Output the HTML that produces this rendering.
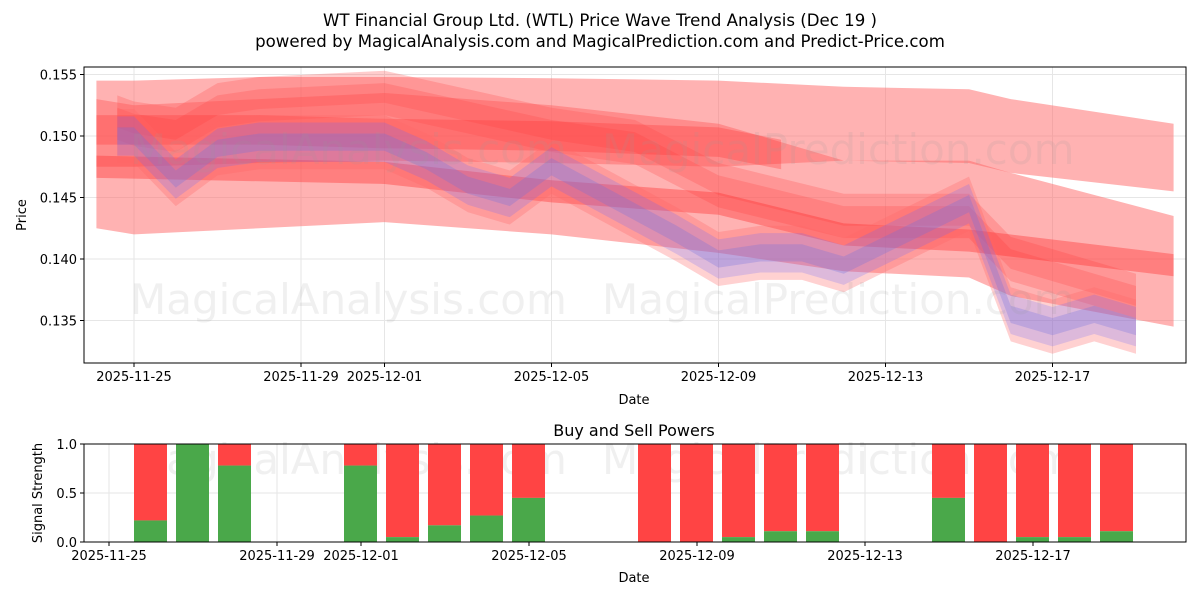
<!DOCTYPE html>
<html><head><meta charset="utf-8"><style>
body{margin:0;background:#fff;font-family:"Liberation Sans","DejaVu Sans",sans-serif}
svg text{font-family:"DejaVu Sans","Liberation Sans",sans-serif}
</style></head><body>
<svg id="c" width="1200" height="600" xmlns="http://www.w3.org/2000/svg"></svg>
<script>
// ---- data (days offset from 2025-11-25) ----
const tickDays=[0,4,6,10,14,18,22];
const tickLabels=["2025-11-25","2025-11-29","2025-12-01","2025-12-05","2025-12-09","2025-12-13","2025-12-17"];
const yTicks=[0.135,0.140,0.145,0.150,0.155];
const yTicks2=[0,0.5,1];
const bandADays=[-0.9,0,3,6,10,14,17,20,21,24.9];
const bandAUp=[0.1545,0.1545,0.1548,0.1548,0.1547,0.1545,0.154,0.1538,0.153,0.151];
const bandALo=[0.1475,0.1475,0.1478,0.148,0.1478,0.1475,0.148,0.1478,0.147,0.1455];
const bandBDays=[-0.9,0,3,6,10,14,17,20,21,24.9];
const bandBUp=[0.153,0.1525,0.153,0.1535,0.1525,0.151,0.148,0.148,0.147,0.1435];
const bandBLo=[0.1425,0.142,0.1425,0.143,0.142,0.1405,0.139,0.1385,0.137,0.1345];
const trend1Days=[-0.9,0,3,6,10,14,15.5];
const trend1=[0.1505,0.1505,0.1505,0.1502,0.150,0.1495,0.1485];
const trend2Days=[-0.9,6,10,14,17,20,24.9];
const trend2=[0.1475,0.147,0.1455,0.1445,0.142,0.1415,0.1395];
const maDays=[-0.4,0,1,2,3,6,8,10,12,14,17,20,21,24];
const ma=[0.1515,0.151,0.1505,0.1525,0.153,0.1535,0.152,0.1505,0.1495,0.146,0.1435,0.1435,0.140,0.137];
const priceDays=[-0.4,0,1,2,3,6,7,8,9,10,13,14,15,16,17,20,21,22,23,24];
const price=[0.150,0.150,0.1465,0.149,0.1495,0.1495,0.148,0.146,0.145,0.1475,0.142,0.140,0.1405,0.1405,0.1395,0.1445,0.1355,0.1345,0.1355,0.1345];
const barDays=[0,1,2,5,6,7,8,9,12,13,14,15,16,19,20,21,22,23];
const buyPower=[0.22,1.0,0.78,0.78,0.05,0.17,0.27,0.45,0,0,0.05,0.11,0.11,0.45,0,0.05,0.05,0.11];

const NS="http://www.w3.org/2000/svg",svg=document.getElementById('c');
function el(t,a,p){const e=document.createElementNS(NS,t);for(const k in a)e.setAttribute(k,a[k]);(p||svg).appendChild(e);return e;}
const X=d=>134+d*41.75;
const Xb=d=>109+d*42;
const Y=v=>136-(v-0.150)/0.005*61.5;
const Y2=v=>542-v*98;
const L=84,R=1186,T1=67,B1=363,T2=444,B2=542;

function txt(x,y,s,o){const t=el('text',Object.assign({x:x,y:y,'font-size':13,fill:'#000'},o||{}));t.textContent=s;return t;}
let t=txt(600,26,"WT Financial Group Ltd. (WTL) Price Wave Trend Analysis (Dec 19 )",{'font-size':16.6,'text-anchor':'middle'});

t=txt(600,47,"powered by MagicalAnalysis.com and MagicalPrediction.com and Predict-Price.com",{'font-size':16.6,'text-anchor':'middle'});


// grids
tickDays.forEach(d=>{el('line',{x1:X(d),x2:X(d),y1:T1,y2:B1,stroke:'#e6e6e6'});el('line',{x1:Xb(d),x2:Xb(d),y1:T2,y2:B2,stroke:'#e6e6e6'});});
yTicks.forEach(v=>el('line',{x1:L,x2:R,y1:Y(v),y2:Y(v),stroke:'#e6e6e6'}));
yTicks2.forEach(v=>el('line',{x1:L,x2:R,y1:Y2(v),y2:Y2(v),stroke:'#e6e6e6'}));

function poly(days,up,lo,fill,op,name){
  let pts=days.map((d,i)=>X(d)+','+Y(up[i]));
  for(let i=days.length-1;i>=0;i--)pts.push(X(days[i])+','+Y(lo[i]));
  const p=el('polygon',{points:pts.join(' '),fill:fill,'fill-opacity':op});
  return p;
}
function bandAround(days,c,hw,fill,op,name){return poly(days,c.map(v=>v+hw),c.map(v=>v-hw),fill,op,name);}
poly(bandADays,bandAUp,bandALo,'#ff6666',0.5,'upper-wave-band');
poly(bandBDays,bandBUp,bandBLo,'#ff6666',0.5,'lower-wave-band');
bandAround(maDays,ma,0.0018,'#ff5555',0.3,'ma-band-wide');
bandAround(maDays,ma,0.0008,'#ff4444',0.25,'ma-band');
bandAround(trend1Days,trend1,0.0012,'#ff3333',0.3,'trend-band-1');
bandAround(trend2Days,trend2,0.0009,'#ff3333',0.4,'trend-band-2');
bandAround(priceDays,price,0.0022,'#ff6666',0.3,'price-red-band');
bandAround(priceDays,price,0.0016,'#6666ff',0.22,'price-blue-band-wide');
bandAround(priceDays,price,0.0007,'#7070dd',0.28,'price-blue-band');

// watermarks
[[130,300,'MagicalAnalysis.com'],[602,300,'MagicalPrediction.com'],[130,150,'MagicalAnalysis.com'],[602,150,'MagicalPrediction.com'],[130,460,'MagicalAnalysis.com'],[602,460,'MagicalPrediction.com']].forEach(w=>{
  const e=txt(w[0],w[1]+14,w[2],{'font-size':42,fill:'#999','fill-opacity':0.15});
  });

// bars
barDays.forEach((d,i)=>{
  const x=Xb(d)+25,w=33;
  const r=el('rect',{x:x,y:Y2(1),width:w,height:Y2(buyPower[i])-Y2(1),fill:'#ff4444'});
  
  const g=el('rect',{x:x,y:Y2(buyPower[i]),width:w,height:Y2(0)-Y2(buyPower[i]),fill:'#4aa84a'});
  
});

// axes frames
el('rect',{x:L,y:T1,width:R-L,height:B1-T1,fill:'none',stroke:'#000','stroke-width':1});
el('rect',{x:L,y:T2,width:R-L,height:B2-T2,fill:'none',stroke:'#000','stroke-width':1});

tickDays.forEach((d,i)=>{
  el('line',{x1:X(d),x2:X(d),y1:B1,y2:B1+4,stroke:'#000'});
  txt(X(d),B1+18,tickLabels[i],{'text-anchor':'middle'});
  el('line',{x1:Xb(d),x2:Xb(d),y1:B2,y2:B2+4,stroke:'#000'});
  txt(Xb(d),B2+18,tickLabels[i],{'text-anchor':'middle'});
});
yTicks.forEach(v=>{el('line',{x1:L-4,x2:L,y1:Y(v),y2:Y(v),stroke:'#000'});txt(L-7,Y(v)+5,v.toFixed(3),{'text-anchor':'end'});});
yTicks2.forEach(v=>{el('line',{x1:L-4,x2:L,y1:Y2(v),y2:Y2(v),stroke:'#000'});txt(L-7,Y2(v)+5,v.toFixed(1),{'text-anchor':'end'});});

txt(634,404,'Date',{'text-anchor':'middle'});
txt(634,582,'Date',{'text-anchor':'middle'});
txt(26,215,'Price',{'text-anchor':'middle',transform:'rotate(-90 26 215)'});
txt(42,493,'Signal Strength',{'text-anchor':'middle',transform:'rotate(-90 42 493)'});
txt(634,436,'Buy and Sell Powers',{'text-anchor':'middle','font-size':16});
</script>
</body></html>
